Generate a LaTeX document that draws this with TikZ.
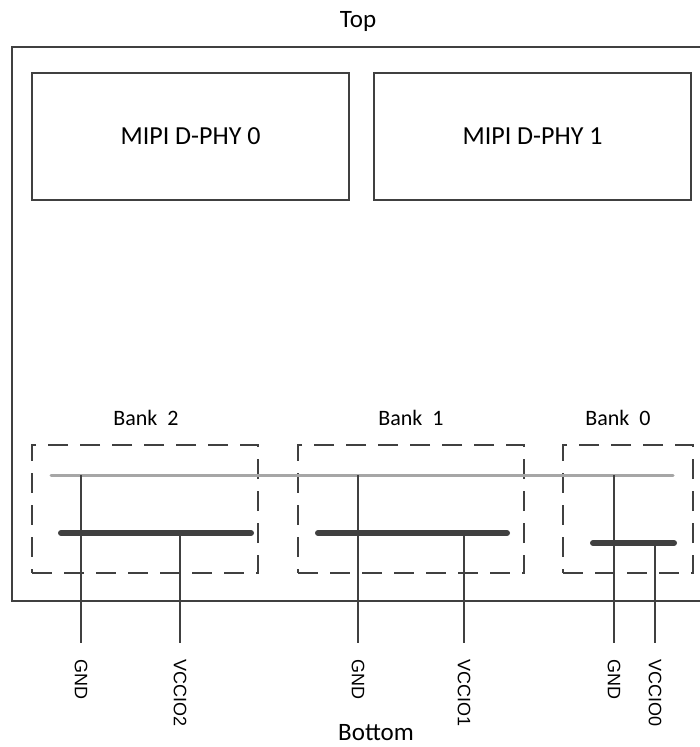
\documentclass[tikz,border=0pt]{standalone}
\usepackage{fontspec}
\setmainfont{Carlito}
\newfontfamily\pinfont{Liberation Sans}
\definecolor{wiregrey}{RGB}{64,64,64}
\definecolor{busgrey}{RGB}{166,166,166}
\usetikzlibrary{positioning}

\begin{document}
\begin{tikzpicture}[x=0.5pt,y=-0.5pt,
    phy/.style={draw=wiregrey,line width=1pt,minimum width=158.5pt,
                minimum height=63.5pt,font=\fontsize{13}{15}\selectfont},
    bankbox/.style={draw=wiregrey,line width=1.1pt,dash pattern=on 10pt off 6pt,
                    minimum height=64pt},
    lbl/.style={font=\fontsize{11}{13}\selectfont},
    side/.style={font=\fontsize{12.5}{15}\selectfont},
    pin/.style={font=\pinfont\fontsize{9}{10}\selectfont,rotate=-90,
                anchor=west,inner sep=0pt},
    wire/.style={draw=wiregrey,line width=1pt},
    rail/.style={draw=wiregrey,line width=3pt,line cap=round},
    bus/.style={draw=busgrey,line width=1.5pt,line cap=round}]
  \useasboundingbox (0,0) rectangle (699,747);
  % die outline
  \draw[wire] (710,47) -| (12,601) -- (710,601);
  \node[side] (top) at (358,22) {Top};
  \node[side,anchor=base,inner sep=0pt] (bottom) at (376,740) {Bottom};
  \node[phy] (phy0) at (190.5,136.5) {MIPI D-PHY 0};
  \node[phy] (phy1) at (532.5,136.5) {MIPI D-PHY 1};
  % banks
  \node[bankbox,minimum width=113pt] (b2) at (145,509) {};
  \node[bankbox,minimum width=113pt] (b1) at (411,509) {};
  \node[bankbox,minimum width=65pt] (b0) at (628,509) {};
  \node[lbl] at (146,418) {Bank\ \ 2};
  \node[lbl] at (411,418) {Bank\ \ 1};
  \node[lbl] at (618,418) {Bank\ \ 0};
  % supply rails
  \draw[bus] (51,475) coordinate (busL) -- (673,475) coordinate (busR);
  \draw[rail] (61,533) coordinate (r2) -- (251,533);
  \draw[rail] (318,533) coordinate (r1) -- (507,533);
  \draw[rail] (593,543) coordinate (r0) -- (674,543);
  % pins
  \node[pin] (gnd2) at (81,659) {GND};
  \node[pin] (vcc2) at (180,659) {VCCIO2};
  \node[pin] (gnd1) at (358,659) {GND};
  \node[pin] (vcc1) at (464,659) {VCCIO1};
  \node[pin] (gnd0) at (614,659) {GND};
  \node[pin] (vcc0) at (655,659) {VCCIO0};
  \draw[wire] (gnd2.west |- busL) -- ([yshift=8pt]gnd2.west);
  \draw[wire] (gnd1.west |- busL) -- ([yshift=8pt]gnd1.west);
  \draw[wire] (gnd0.west |- busL) -- ([yshift=8pt]gnd0.west);
  \draw[wire] (vcc2.west |- r2) -- ([yshift=8pt]vcc2.west);
  \draw[wire] (vcc1.west |- r1) -- ([yshift=8pt]vcc1.west);
  \draw[wire] (vcc0.west |- r0) -- ([yshift=8pt]vcc0.west);
\end{tikzpicture}
\end{document}
